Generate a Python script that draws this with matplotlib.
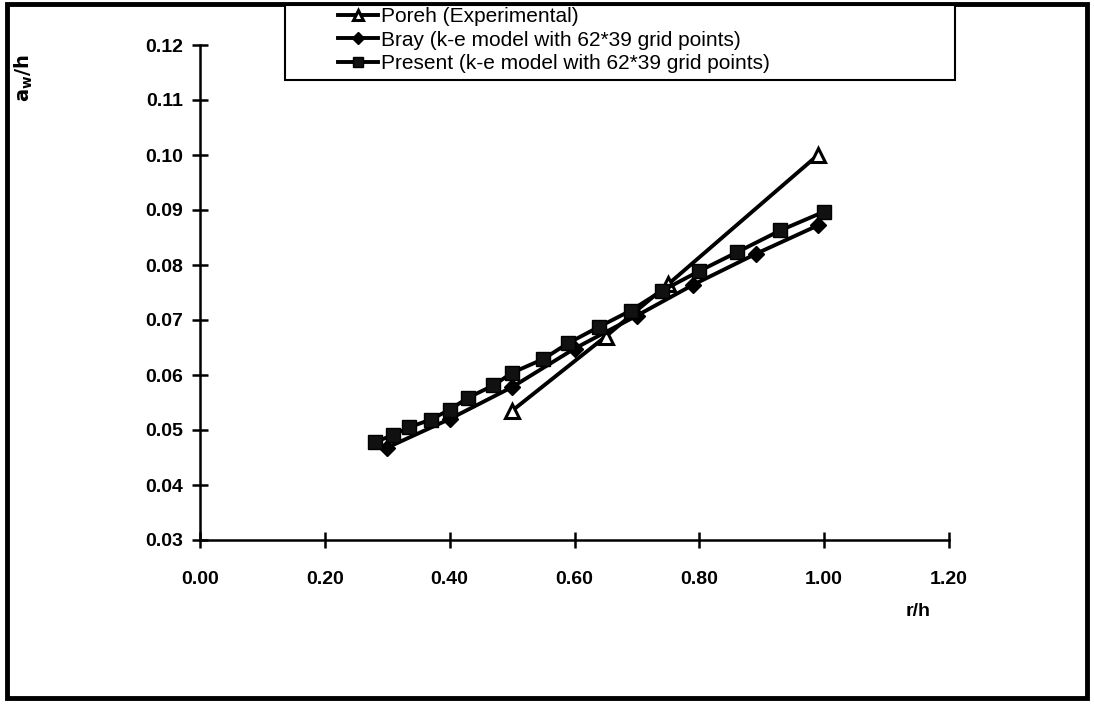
import matplotlib
matplotlib.use("Agg")
import matplotlib.pyplot as plt
from matplotlib.patches import Rectangle

plt.rcParams['font.family'] = ['Liberation Sans', 'DejaVu Sans']

# data
poreh_x = [0.50, 0.65, 0.75, 0.99]
poreh_y = [0.0535, 0.0670, 0.0765, 0.1000]

bray_x = [0.30, 0.40, 0.50, 0.60, 0.70, 0.79, 0.89, 0.99]
bray_y = [0.0468, 0.0520, 0.0578, 0.0648, 0.0708, 0.0764, 0.0820, 0.0872]

present_x = [0.28, 0.31, 0.335, 0.37, 0.40, 0.43, 0.47, 0.50, 0.55, 0.59,
             0.64, 0.69, 0.74, 0.80, 0.86, 0.93, 1.00]
present_y = [0.0478, 0.0491, 0.0505, 0.0519, 0.0537, 0.0559, 0.0581, 0.0604,
             0.0629, 0.0658, 0.0688, 0.0717, 0.0753, 0.0789, 0.0823, 0.0863,
             0.0897]

xticks = [0.0, 0.2, 0.4, 0.6, 0.8, 1.0, 1.2]
yticks = [0.03, 0.04, 0.05, 0.06, 0.07, 0.08, 0.09, 0.10, 0.11, 0.12]

W, H = 1094, 705
fig = plt.figure(figsize=(W / 100, H / 100), dpi=100)
ax = fig.add_axes([200 / W, 1 - 540 / H, (949 - 200) / W, (540 - 45) / H])

lw = 2.8
ax.plot(poreh_x, poreh_y, color='black', lw=lw, marker='^', ms=10,
        mfc='white', mec='black', mew=2.2, label='Poreh (Experimental)', zorder=3)
ax.plot(bray_x, bray_y, color='black', lw=lw, marker='D', ms=8.5,
        mfc='black', mec='black', label='Bray (k-e model with 62*39 grid points)', zorder=4)
ax.plot(present_x, present_y, color='black', lw=lw, marker='s', ms=9.5,
        mfc='#111111', mec='black', label='Present (k-e model with 62*39 grid points)', zorder=5)

ax.set_xlim(0, 1.2)
ax.set_ylim(0.03, 0.12)
ax.set_xticks(xticks)
ax.set_yticks(yticks)
ax.set_xticklabels(['%.2f' % v for v in xticks])
ax.set_yticklabels(['%.2f' % v for v in yticks])
for s in ['top', 'right']:
    ax.spines[s].set_visible(False)
for s in ['left', 'bottom']:
    ax.spines[s].set_linewidth(1.8)
ax.tick_params(axis='both', direction='inout', length=12, width=1.8,
               labelsize=14)
ax.tick_params(axis='x', pad=16)
ax.tick_params(axis='y', pad=6)
for lab in ax.get_xticklabels() + ax.get_yticklabels():
    lab.set_fontweight('bold')

fig.text(918 / W, 1 - 612 / H, 'r/h', fontsize=14, fontweight='bold',
         ha='center', va='center')
fig.text(24 / W, 1 - 78 / H, r'$\mathbf{a_w/h}$', fontsize=14,
         rotation=90, ha='center', va='center')

# legend: box drawn separately, entries start well inside it like the original
fig.patches.append(Rectangle((285 / W, 1 - 80 / H), (955 - 285) / W, 75 / H,
                             transform=fig.transFigure, fill=True,
                             facecolor='white', edgecolor='black', lw=1.5,
                             zorder=9))
leg = fig.legend(loc='upper left', bbox_to_anchor=(334 / W, 1 - 3 / H),
                 frameon=False, fontsize=15, handlelength=1.9,
                 handletextpad=0.15, borderpad=0.2, labelspacing=0.22,
                 borderaxespad=0, markerscale=0.75)
leg.set_zorder(10)

# outer frame of the scanned chart
fig.patches.append(Rectangle((7 / W, 7 / H), (W - 14) / W, (H - 11) / H,
                             transform=fig.transFigure, fill=False,
                             edgecolor='black', lw=3.5))

fig.savefig('out.png', dpi=100)
